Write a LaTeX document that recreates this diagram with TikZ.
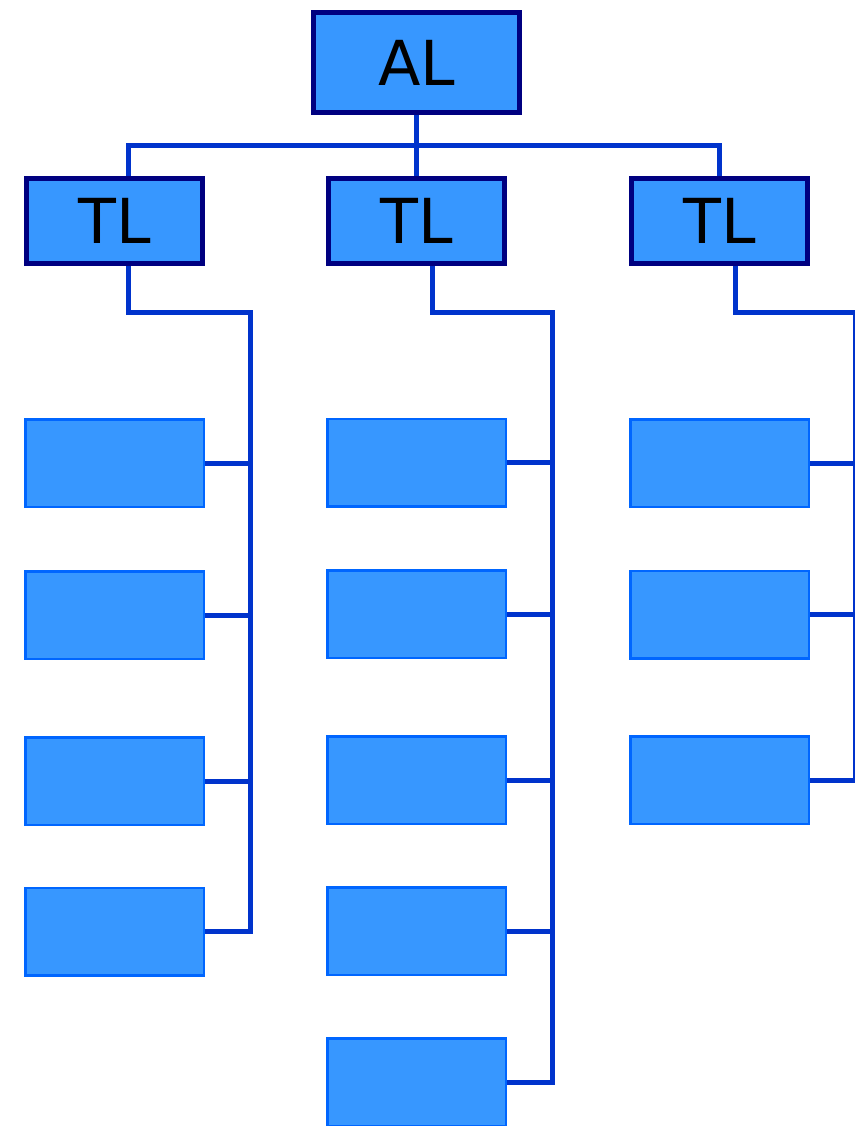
\documentclass[tikz,border=0pt]{standalone}
\usepackage{fontspec}
\setmainfont{DejaVu Sans}
\definecolor{boxfill}{HTML}{3797FF}
\definecolor{headline}{HTML}{000080}
\definecolor{leafline}{HTML}{0066FF}
\definecolor{linkblue}{HTML}{0033CC}
\tikzset{every picture/.style={line width=5pt}}

\begin{document}
\begin{tikzpicture}[
    x=1pt, y=-1pt,
    every node/.style={fill=boxfill, inner sep=0pt, font=\fontsize{62}{62}\selectfont},
    head/.style={draw=headline, line width=5pt, minimum width=176pt, minimum height=85pt},
    leaf/.style={draw=leafline, line width=2.5pt, minimum width=178.5pt, minimum height=87.5pt},
    link/.style={draw=linkblue, line width=5pt},
]
    \useasboundingbox (0,0) rectangle (854,1126);

    \node[head, minimum width=206pt, minimum height=100pt] (al) at (416.5,62.5) {AL};

    \node[head] (tl) at (114.5,221) {TL};
    \node[head] (tl2) at (416.5,221) {TL};
    \node[head] (tl3) at (719.5,221) {TL};

    \node[leaf] (one) at (114.5,463) {};
    \node[leaf] (two) at (114.5,615) {};
    \node[leaf] (three) at (114.5,781) {};
    \node[leaf] (four) at (114.5,931.5) {};

    \node[leaf] (one2) at (416.5,462.5) {};
    \node[leaf] (two2) at (416.5,614) {};
    \node[leaf] (three2) at (416.5,780) {};
    \node[leaf] (four2) at (416.5,931) {};
    \node[leaf] (five2) at (416.5,1082) {};

    \node[leaf] (one3) at (719.5,463) {};
    \node[leaf] (two3) at (719.5,614.5) {};
    \node[leaf] (three3) at (719.5,780) {};

    \coordinate (bus) at (416.5,146);
    \coordinate (spine) at (250,312);
    \coordinate (spine2) at (552,312);
    \coordinate (spine3) at (855.5,312);

    \draw[link] (al.south) -- (tl2.north);
    \draw[link] ([xshift=13.5pt]tl.north) |- (bus) -| (tl3.north);

    \draw[link] ([xshift=13.5pt]tl.south) |- (spine) |- (four.east);
    \draw[link] ([xshift=15.5pt]tl2.south) |- (spine2) |- (five2.east);
    \draw[link] ([xshift=15.5pt]tl3.south) |- (spine3) |- (three3.east);

    \foreach \n in {one,two,three}
        \draw[link] (\n.east) -- (\n.east -| spine);
    \foreach \n in {one2,two2,three2,four2}
        \draw[link] (\n.east) -- (\n.east -| spine2);
    \foreach \n in {one3,two3}
        \draw[link] (\n.east) -- (\n.east -| spine3);
\end{tikzpicture}
\end{document}
